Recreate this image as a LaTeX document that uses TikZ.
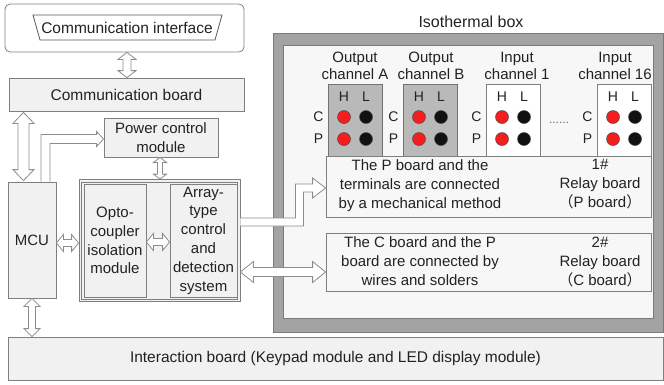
\documentclass[tikz,border=0pt]{standalone}
\usepackage{fontspec}
\setmainfont{Liberation Sans}
\newfontfamily\cjkfont{Noto Sans CJK SC}
\usetikzlibrary{calc}

\definecolor{edge}{HTML}{7F7F7F}
\definecolor{boardfill}{HTML}{F1F1F1}
\definecolor{arrowedge}{HTML}{8C8C8C}
\definecolor{isoframe}{HTML}{A3A3A3}
\definecolor{isoedge}{HTML}{7A7A7A}
\definecolor{panelfill}{HTML}{F7F7F7}
\definecolor{outfill}{HTML}{B9B9B9}
\definecolor{pinred}{HTML}{F51E1E}
\definecolor{pinblack}{HTML}{111111}
\definecolor{txt}{HTML}{222222}

\tikzset{
  box/.style={draw=edge, line width=0.8pt, fill=boardfill, inner sep=0pt,
    align=center, text=txt, font=\fontsize{15}{18.8}\selectfont},
  hollow/.style={draw=arrowedge, line width=0.8pt, fill=white, line join=miter},
  lbl/.style={inner sep=0pt, text=txt, align=center,
    font=\fontsize{15}{17}\selectfont},
  pinlbl/.style={inner sep=0pt, text=txt, font=\fontsize{14}{16}\selectfont},
  pin/.style={draw=black!70, line width=0.5pt},
}

% straight hollow double-headed block arrow between two points:
% #1 start, #2 end, #3 head length, #4 head half width, #5 shaft half width
\newcommand\dblarrow[5]{%
  \filldraw[hollow] (#1)
    -- ($(#1)!#3!(#2)!#4!90:(#2)$) -- ($(#1)!#3!(#2)!#5!90:(#2)$)
    -- ($(#2)!#3!(#1)!#5!-90:(#1)$) -- ($(#2)!#3!(#1)!#4!-90:(#1)$)
    -- (#2)
    -- ($(#2)!#3!(#1)!#4!90:(#1)$) -- ($(#2)!#3!(#1)!#5!90:(#1)$)
    -- ($(#1)!#3!(#2)!#5!-90:(#2)$) -- ($(#1)!#3!(#2)!#4!-90:(#2)$)
    -- cycle;}

% one terminal block: #1 name, #2 left edge, #3 fill, #4 border, #5 title x, #6 title
\newcommand\terminal[6]{%
  \node[draw=#4, fill=#3, line width=0.8pt, inner sep=0pt, anchor=north west,
        minimum width=54pt, minimum height=74pt] (#1) at (#2,84) {};
  \node[lbl] (#1-title) at (#5,65.5) {#6};
  \node[pinlbl] (#1-H) at ($(#1.north west)+(16,13)$) {H};
  \node[pinlbl] (#1-L) at ($(#1.north west)+(38,13)$) {L};
  \node[pinlbl] (#1-C) at ($(#1.north west)+(-9.5,33)$) {C};
  \node[pinlbl] (#1-P) at ($(#1.north west)+(-9.5,55)$) {P};
  \filldraw[pin, fill=pinred]   ($(#1.north west)+(16,33)$) circle (6.5pt);
  \filldraw[pin, fill=pinblack] ($(#1.north west)+(38,33)$) circle (6.5pt);
  \filldraw[pin, fill=pinred]   ($(#1.north west)+(16,55)$) circle (6.5pt);
  \filldraw[pin, fill=pinblack] ($(#1.north west)+(38,55)$) circle (6.5pt);}

\begin{document}
\begin{tikzpicture}[x=1pt, y=-1pt]
\useasboundingbox (0,0) rectangle (664,384);

% ---------- left column ----------
\node[box, fill=white, rounded corners=5pt, minimum width=239pt, minimum height=48pt]
  (topbox) at (124.5,28) {};
\draw[draw=black!65, line width=0.8pt, fill=white]
  (33,15) -- (222,15) -- (215,40) -- (40,40) -- cycle;
\node[inner sep=0pt, text=txt, font=\fontsize{15.5}{18}\selectfont]
  (iface) at (127,27.5) {Communication interface};

\node[box, font=\fontsize{15.5}{18}\selectfont, minimum width=235pt, minimum height=33pt]
  (comm) at (126.5,94.5) {Communication board};

\node[box, minimum width=114pt, minimum height=39pt] (power) at (161,137.5)
  {Power control\\module};

\node[box, minimum width=48pt, minimum height=116pt] (mcu) at (32,240) {MCU};

% double-framed group holding the isolation and control modules
\node[box, minimum width=161pt, minimum height=122pt] (group) at (159.5,240.5) {};
\draw[draw=edge, line width=0.8pt] ($(group.north west)+(3,3)$) rectangle ($(group.south east)+(-3,-3)$);
\node[box, minimum width=62pt, minimum height=113pt] (opto) at (115,240.5)
  {Opto-\\coupler\\isolation\\module};
\node[box, minimum width=67pt, minimum height=113pt] (array) at (203.5,240.5)
  {Array-\\type\\control\\and\\detection\\system};

\node[box, font=\fontsize{15.5}{18}\selectfont, minimum width=655pt, minimum height=43pt]
  (inter) at (335.5,358.5) {Interaction board (Keypad module and LED display module)};

% ---------- isothermal box ----------
\node[lbl, font=\fontsize{16}{18}\selectfont] (isotitle) at (471,22) {Isothermal box};
\node[draw=isoedge, fill=isoframe, line width=1pt, inner sep=0pt,
      minimum width=390pt, minimum height=299pt] (iso) at (468,182.5) {};
\node[draw=isoedge, fill=panelfill, line width=0.8pt, inner sep=0pt,
      minimum width=370pt, minimum height=273pt] (panel) at (468,181.5) {};

\terminal{outA}{328}{outfill}{black!55}{355}{Output\\channel A}
\terminal{outB}{403}{outfill}{black!55}{431}{Output\\channel B}
\terminal{in1}{486}{white}{black!50}{517}{Input\\channel 1}
\terminal{in16}{597}{white}{black!50}{615}{Input\\channel 16}
\node[inner sep=0pt, text=black!60, font=\fontsize{12}{14}\selectfont] (gap) at (559,123) {......};

\node[box, fill=panelfill, minimum width=325pt, minimum height=61pt] (pboard) at (488.5,186.5) {};
\node[lbl, font=\fontsize{15}{19}\selectfont] (ptext) at (420,186)
  {The P board and the\\terminals are connected\\by a mechanical method};
\node[lbl, font=\fontsize{15}{19}\selectfont] (pname) at (600,184)
  {1\#\\Relay board\\{\cjkfont （}P board{\cjkfont ）}};

\node[box, fill=panelfill, minimum width=325pt, minimum height=58pt] (cboard) at (488.5,262) {};
\node[lbl, font=\fontsize{15}{19}\selectfont] (ctext) at (420,261)
  {The C board and the P\\board are connected by\\wires and solders};
\node[lbl, font=\fontsize{15}{19}\selectfont] (cname) at (600,262)
  {2\#\\Relay board\\{\cjkfont （}C board{\cjkfont ）}};

% ---------- connectors ----------
\coordinate (t1) at (topbox.south -| 127,0);
\coordinate (t2) at (comm.north -| 127,0);
\dblarrow{t1}{t2}{7pt}{9pt}{4pt}

\coordinate (c1) at ($(comm.south -| 23.5,0)+(0,1)$);
\coordinate (c2) at ($(mcu.north -| 23.5,0)+(0,-1)$);
\dblarrow{c1}{c2}{11pt}{10.5pt}{5.5pt}

% MCU -> power control: bent single-headed block arrow
\coordinate (m1) at (mcu.north -| 45.5,0);
\coordinate (pw) at (power.west |- 0,139);
\filldraw[hollow] ($(m1)+(-4.5,0)$) -- ($(m1 |- pw)+(-4.5,-4.5)$)
  -- ($(pw)+(-7,-4.5)$) -- ($(pw)+(-7,-7.5)$) -- (pw)
  -- ($(pw)+(-7,7.5)$) -- ($(pw)+(-7,4.5)$)
  -- ($(m1 |- pw)+(4.5,4.5)$) -- ($(m1)+(4.5,0)$);

\coordinate (pg1) at (power.south -| 160,0);
\coordinate (pg2) at (group.north -| 160,0);
\dblarrow{pg1}{pg2}{5pt}{6.5pt}{2.5pt}

\coordinate (mg1) at (mcu.east |- 0,243);
\coordinate (mg2) at (group.west |- 0,243);
\dblarrow{mg1}{mg2}{7pt}{8.5pt}{3.5pt}

\coordinate (oa1) at (opto.east |- 0,242);
\coordinate (oa2) at (array.west |- 0,242);
\dblarrow{oa1}{oa2}{7pt}{8.5pt}{3.5pt}

% control system -> P board: bent single-headed block arrow
\coordinate (a1) at (group.east |- 0,222);
\coordinate (k) at ($(a1)+(59,0)$);
\coordinate (pb) at (pboard.west |- 0,188);
\filldraw[hollow] ($(a1)+(0,-4)$) -- ($(k)+(-4,-4)$) -- ($(k |- pb)+(-4,-4)$)
  -- ($(pb)+(-13,-4)$) -- ($(pb)+(-13,-10)$) -- (pb)
  -- ($(pb)+(-13,10)$) -- ($(pb)+(-13,4)$)
  -- ($(k |- pb)+(4,4)$) -- ($(k)+(4,4)$) -- ($(a1)+(0,4)$);

\coordinate (ac1) at (group.east |- 0,272);
\coordinate (ac2) at (cboard.west |- 0,272);
\dblarrow{ac1}{ac2}{13pt}{10.5pt}{4.5pt}

\coordinate (mi1) at (mcu.south);
\coordinate (mi2) at (inter.north -| mcu.south);
\dblarrow{mi1}{mi2}{8pt}{8pt}{3.5pt}

\end{tikzpicture}
\end{document}
